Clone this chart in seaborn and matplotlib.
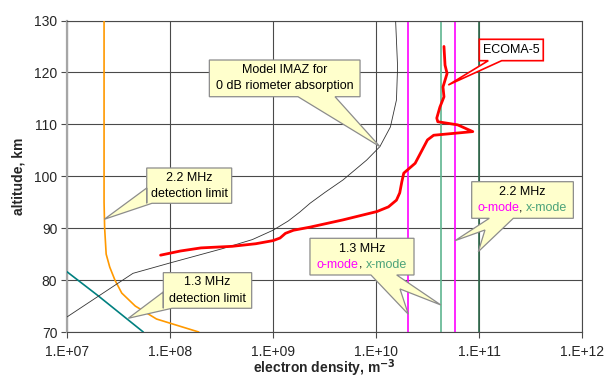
import numpy as np
import matplotlib
matplotlib.use("Agg")
import matplotlib.pyplot as plt
from matplotlib.patches import Polygon
from matplotlib.offsetbox import TextArea, HPacker, VPacker, AnnotationBbox
from matplotlib.ticker import FixedLocator, FuncFormatter, NullLocator
import seaborn as sns

# ECOMA-5 measured electron density profile
ecoma_density = [8.1e7, 1.26e8, 2.0e8, 4.0e8, 6.8e8, 1.0e9, 1.17e9, 1.32e9, 1.58e9,
                 2.29e9, 4.79e9, 1.02e10, 1.32e10, 1.58e10, 1.70e10, 1.78e10, 1.86e10,
                 2.40e10, 3.16e10, 3.63e10, 8.7e10, 6.2e10, 3.98e10, 3.89e10, 4.17e10,
                 4.57e10, 4.47e10, 4.9e10, 4.68e10, 4.57e10]
ecoma_alt = [84.8, 85.6, 86.2, 86.5, 87.0, 87.6, 88.1, 89.0, 89.6,
             90.2, 91.6, 93.2, 94.1, 95.4, 96.8, 98.9, 100.6,
             102.5, 107.0, 107.9, 108.6, 109.9, 110.5, 111.2, 113.3,
             115.3, 117.2, 119.8, 121.4, 125.0]

# IMAZ model profile for 0 dB riometer absorption
imaz_density = [1e7, 2.09e7, 4.37e7, 1e8, 3.16e8, 6.3e8, 1e9, 1.41e9, 1.82e9, 2.29e9,
                3.2e9, 4.79e9, 8.1e9, 1.09e10, 1.38e10, 1.58e10, 1.62e10, 1.55e10]
imaz_alt = [72.9, 77.1, 81.3, 83.3, 86.0, 87.8, 89.6, 91.4, 93.1, 94.8,
            96.9, 99.3, 103.1, 105.7, 109.5, 114.7, 121.1, 130.0]

# detection limits
det22_density = [2.29e7, 2.29e7, 2.32e7, 2.4e7, 2.6e7, 2.92e7, 3.4e7, 4.6e7, 7.4e7, 1.0e8, 1.9e8]
det22_alt = [130.0, 95.0, 90.0, 85.0, 82.5, 80.0, 77.5, 75.0, 72.5, 71.7, 70.0]
det13_density = [1e7, 2.0e7, 5.5e7]
det13_alt = [81.6, 77.0, 70.0]

# cutoff densities (o-mode / x-mode) for 1.3 and 2.2 MHz
cutoff_density = [2.06e10, 4.3e10, 5.9e10, 9.9e10]
cutoff_colors = ["#FF00FF", "#5FB590", "#FF00FF", "#2F6A4C"]

x_ticks = [1e7, 1e8, 1e9, 1e10, 1e11, 1e12]
y_ticks = [70, 80, 90, 100, 110, 120, 130]

sns.set_style("white")
plt.rcParams["font.family"] = ["Liberation Sans", "DejaVu Sans"]

fig = plt.figure(figsize=(6.13, 3.78), dpi=100)
ax = fig.add_axes([67 / 613, 1 - 332 / 378, 515 / 613, 311.5 / 378])
ax.set_xscale("log")
ax.set_xlim(1e7, 1e12)
ax.set_ylim(70, 130)

ax.xaxis.set_major_locator(FixedLocator(x_ticks))
ax.xaxis.set_minor_locator(NullLocator())
ax.xaxis.set_major_formatter(FuncFormatter(lambda v, p: f"1.E+{int(round(np.log10(v))):02d}"))
ax.set_yticks(y_ticks)
ax.grid(True, which="major", color="#4a4a4a", lw=0.8)
ax.set_axisbelow(True)
ax.tick_params(axis="both", which="major", direction="out", length=4, width=0.8,
               color="#4a4a4a", labelsize=10, bottom=True, left=True)
ax.tick_params(axis="x", pad=5)
ax.tick_params(axis="y", pad=3)

for side in ["top", "right", "bottom"]:
    ax.spines[side].set_color("#4a4a4a")
    ax.spines[side].set_linewidth(0.8)
ax.spines["left"].set_color("#a6a6a6")
ax.spines["left"].set_linewidth(1.6)

for d, c in zip(cutoff_density, cutoff_colors):
    ax.axvline(d, color=c, lw=1.2, zorder=2)

sns.lineplot(x=det22_density, y=det22_alt, sort=False, estimator=None,
             color="#FF9900", lw=1.2, ax=ax, zorder=3)
sns.lineplot(x=det13_density, y=det13_alt, sort=False, estimator=None,
             color="#008080", lw=1.2, ax=ax, zorder=3)
sns.lineplot(x=imaz_density, y=imaz_alt, sort=False, estimator=None,
             color="#333333", lw=0.6, ax=ax, zorder=3)
sns.lineplot(x=ecoma_density, y=ecoma_alt, sort=False, estimator=None,
             color="#FF0000", lw=2.0, ax=ax, zorder=4)

ax.set_xlabel("electron density, m$^{\\mathbf{-3}}$", fontsize=10, fontweight="bold", labelpad=-1)
ax.set_ylabel("altitude, km", fontsize=10, fontweight="bold", labelpad=6)


def callout(box, pointer, lines, face="#FFFFCC", edge="#8c8c8c", lw=0.9):
    """Box in (log10 density, altitude); pointer inserted into the outline
    after the bottom-right corner, listed in outline order."""
    x0, x1, y0, y1 = box
    verts = [(x0, y1), (x1, y1), (x1, y0)] + list(pointer) + [(x0, y0)]
    verts = [(10 ** vx, vy) for vx, vy in verts]
    ax.add_patch(Polygon(verts, closed=True, facecolor=face, edgecolor=edge,
                         lw=lw, zorder=6, joinstyle="miter"))
    rows = []
    for line in lines:
        parts = [TextArea(t, textprops=dict(color=c, fontsize=9)) for t, c in line]
        rows.append(HPacker(children=parts, align="baseline", pad=0, sep=0))
    pack = VPacker(children=rows, align="center", pad=0, sep=3)
    cx = 10 ** ((x0 + x1) / 2)
    cy = (y0 + y1) / 2
    ab = AnnotationBbox(pack, (cx, cy), xycoords="data", frameon=False,
                        box_alignment=(0.5, 0.5), zorder=7)
    ax.add_artist(ab)


callout((8.382, 9.845, 115.32, 122.39),
        [(9.602, 115.32), (10.039, 105.69), (9.243, 115.32)],
        [[("Model IMAZ for", "black")], [("0 dB riometer absorption", "black")]])

callout((7.774, 8.599, 94.79, 101.59),
        [(7.825, 94.79), (7.362, 91.71), (7.774, 97.74)],
        [[("2.2 MHz", "black")], [("detection limit", "black")]])

callout((7.935, 8.793, 74.57, 81.43),
        [(8.019, 74.57), (7.595, 72.64), (7.935, 77.71)],
        [[("1.3 MHz", "black")], [("detection limit", "black")]])

callout((9.359, 10.369, 80.98, 88.05),
        [(10.201, 80.98), (10.63, 75.20), (10.233, 78.29), (10.314, 73.41), (9.951, 80.98)],
        [[("1.3 MHz", "black")],
         [("o-mode", "#FF00FF"), (", ", "black"), ("x-mode", "#4CA37A")]])

callout((10.929, 11.916, 91.90, 98.95),
        [(11.333, 91.90), (10.993, 85.47), (11.058, 89.65), (10.767, 87.59), (11.100, 91.90)],
        [[("2.2 MHz", "black")],
         [("o-mode", "#FF00FF"), (", ", "black"), ("x-mode", "#4CA37A")]])

callout((11.003, 11.624, 122.26, 126.38),
        [(11.220, 122.26), (10.702, 117.58), (11.090, 122.26)],
        [[("ECOMA-5", "black")]], face="white", edge="#FF0000", lw=1.2)

fig.savefig("out.png", dpi=100)
